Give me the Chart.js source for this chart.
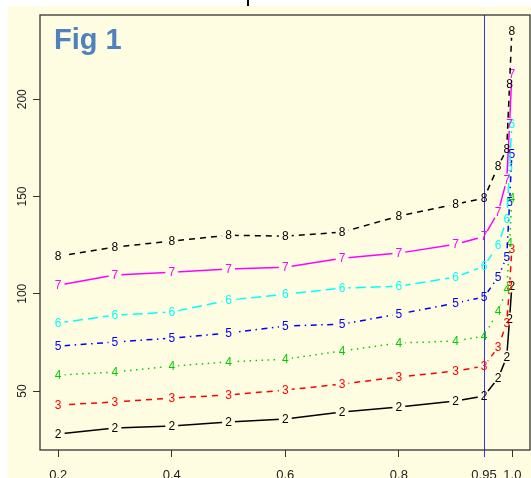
<!DOCTYPE html>
<html>
<head>
<meta charset="utf-8">
<script src="https://cdn.jsdelivr.net/npm/chart.js@4.4.1/dist/chart.umd.min.js"></script>
<style>
  html, body { margin: 0; padding: 0; background: #fff; }
  body { width: 531px; height: 478px; position: relative; overflow: hidden; }
  #panel { position: absolute; left: 8px; top: 6px; width: 523px; height: 472px; background: #fefde2; }
  #panel canvas { position: absolute; left: 0; top: 0; }
  #fig { position: absolute; left: 46px; top: 19px; font: bold 29px/29px "Liberation Sans", Arial, sans-serif; color: #4f81bd; }
  #mark { position: absolute; left: 247px; top: 0; width: 2px; height: 6px; background: #000; }
</style>
</head>
<body>
<div id="mark"></div>
<div id="panel">
  <canvas id="chart" width="523" height="472"></canvas>
  <div id="fig">Fig 1</div>
</div>
<script>
// x positions of the points
const xValues = [0.2, 0.3, 0.4, 0.5, 0.6, 0.7, 0.8, 0.9, 0.95, 0.975, 0.99, 0.995, 0.999];

// one series per plotted digit
const seriesNames = ['2', '3', '4', '5', '6', '7', '8'];
const series2 = [27.9, 31.0, 32.0, 34.1, 35.6, 39.2, 41.8, 44.9, 47.4, 56.7, 67.5, 87, 104];
const series3 = [42.8, 44.4, 46.4, 48.0, 50.5, 53.6, 57.2, 60.3, 62.8, 72.6, 85, 104, 123];
const series4 = [58.2, 59.8, 62.8, 65.0, 66.4, 70.6, 74.7, 75.7, 78.3, 91, 102.4, 126, 149];
const series5 = [73.1, 75.2, 77.2, 79.8, 83.4, 84.4, 89.6, 95.2, 98.3, 108.6, 119, 147, 172];
const series6 = [85.0, 89.0, 90.6, 96.7, 99.8, 102.9, 103.9, 108.6, 114.2, 125, 138.4, 165, 187];
const series7 = [104.4, 109.6, 111.1, 112.7, 113.7, 118.3, 120.9, 125.5, 129.4, 142, 158.5, 187, 213];
const series8 = [119.3, 124.0, 127.1, 130.1, 129.6, 131.7, 139.9, 146.1, 149.1, 165.6, 174.3, 207.7, 234.9];
const allSeries = [series2, series3, series4, series5, series6, series7, series8];

const xTickValues = [0.2, 0.4, 0.6, 0.8, 0.95, 1.0];
const xTickLabels = ['0.2', '0.4', '0.6', '0.8', '0.95', '1.0'];
const yTickValues = [50, 100, 150, 200];
const markerX = 0.95;

// R matplot defaults: col 1:6, lty 1:5 recycled
const colors = ['#000000', '#ff0000', '#00cd00', '#0000ff', '#00ffff', '#ff00ff', '#000000'];
const dashes = [[], [6, 5], [1.5, 4.5], [1.5, 4.5, 6, 4.5], [10, 5], [], [6, 5]];

const GAP = 6.5;
const digitFont = '12px "Liberation Sans", Arial, sans-serif';

// type="b": line broken around each point, digit drawn at the point
const pointGaps = {
  id: 'pointGaps',
  beforeDatasetDraw(chart, args) {
    const ctx = chart.ctx;
    ctx.save();
    ctx.beginPath();
    ctx.rect(0, 0, chart.width, chart.height);
    args.meta.data.forEach(p => {
      ctx.moveTo(p.x + GAP, p.y);
      ctx.arc(p.x, p.y, GAP, 0, Math.PI * 2);
    });
    ctx.clip('evenodd');
  },
  afterDatasetDraw(chart, args) {
    const ctx = chart.ctx;
    ctx.restore();
    const ds = chart.data.datasets[args.index];
    ctx.save();
    ctx.fillStyle = ds.borderColor;
    ctx.font = digitFont;
    ctx.textAlign = 'center';
    ctx.textBaseline = 'middle';
    args.meta.data.forEach(p => ctx.fillText(ds.label, p.x, p.y + 0.5));
    ctx.restore();
  }
};

const plotBox = {
  id: 'plotBox',
  afterDraw(chart) {
    const { ctx, chartArea: a } = chart;
    ctx.save();
    ctx.strokeStyle = '#333';
    ctx.lineWidth = 1.3;
    ctx.strokeRect(a.left, a.top, a.right - a.left, a.bottom - a.top);
    ctx.restore();
  }
};

const datasets = allSeries.map((s, i) => ({
  label: seriesNames[i],
  data: xValues.map((x, j) => ({ x: x, y: s[j] })),
  borderColor: colors[i],
  borderDash: dashes[i],
  borderWidth: 1.5,
  pointRadius: 0,
  tension: 0,
  fill: false,
  order: allSeries.length - i
}));

new Chart(document.getElementById('chart'), {
  type: 'line',
  data: { datasets: datasets },
  plugins: [pointGaps, plotBox],
  options: {
    responsive: false,
    animation: false,
    layout: { padding: { top: 9, right: 1, left: 0, bottom: 0 } },
    plugins: { legend: { display: false }, tooltip: { enabled: false } },
    scales: {
      x: {
        type: 'linear',
        min: 0.168,
        max: 1.031,
        z: 1,
        afterBuildTicks: scale => { scale.ticks = xTickValues.map(v => ({ value: v })); },
        afterFit: scale => {
          scale.height = 28;
          scale.paddingLeft = 0;
          scale.paddingRight = 0;
        },
        border: { display: false },
        grid: {
          drawOnChartArea: true,
          tickLength: 7,
          color: c => (c.tick && c.tick.value === markerX ? '#3333ff' : 'rgba(0,0,0,0)'),
          tickColor: c => (c.tick && c.tick.value === markerX ? '#3333ff' : '#333'),
          lineWidth: 1,
          tickWidth: 1
        },
        ticks: {
          padding: 11,
          color: '#222',
          font: { family: '"Liberation Sans", Arial, sans-serif', size: 13 },
          maxRotation: 0,
          autoSkip: false,
          callback: (v, i) => xTickLabels[i]
        }
      },
      y: {
        type: 'linear',
        min: 19.7,
        max: 243.3,
        afterBuildTicks: scale => { scale.ticks = yTickValues.map(v => ({ value: v })); },
        afterFit: scale => {
          scale.width = 32;
          scale.paddingTop = 0;
          scale.paddingBottom = 0;
        },
        border: { display: false },
        grid: { drawOnChartArea: false, tickLength: 7, tickColor: '#333' },
        ticks: {
          padding: 0,
          color: '#222',
          minRotation: 90,
          maxRotation: 90,
          crossAlign: 'center',
          font: { family: '"Liberation Sans", Arial, sans-serif', size: 12 },
          callback: v => String(v)
        }
      }
    }
  }
});
</script>
</body>
</html>
